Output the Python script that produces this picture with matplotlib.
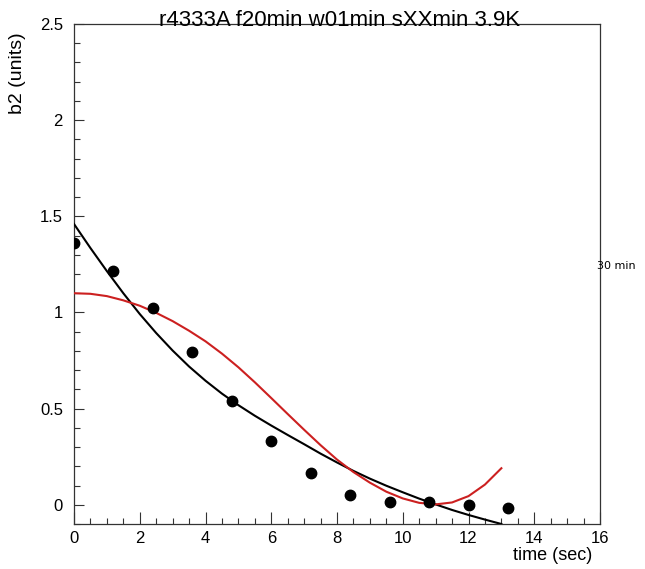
"""Recreate the b2 decay plot (ROOT-style frame) as out.png."""

import matplotlib

matplotlib.use("Agg")
import matplotlib.pyplot as plt
from matplotlib.ticker import MultipleLocator, FixedLocator

# measured points
t_pts = [0.0, 1.2, 2.4, 3.6, 4.8, 6.0, 7.2, 8.4, 9.6, 10.8, 12.0, 13.2]
b2_pts = [1.36, 1.215, 1.025, 0.793, 0.542, 0.333, 0.167, 0.052, 0.012, 0.016, 0.0, -0.015]

# fitted curves, every 0.5 s
t_fit = [0.0, 0.5, 1.0, 1.5, 2.0, 2.5, 3.0, 3.5, 4.0, 4.5, 5.0, 5.5, 6.0, 6.5,
         7.0, 7.5, 8.0, 8.5, 9.0, 9.5, 10.0, 10.5, 11.0, 11.5, 12.0, 12.5, 13.0]
black_fit = [1.460, 1.335, 1.215, 1.100, 0.992, 0.893, 0.802, 0.719, 0.645, 0.578,
             0.518, 0.463, 0.412, 0.363, 0.315, 0.266, 0.220, 0.176, 0.136, 0.099,
             0.065, 0.032, 0.002, -0.027, -0.053, -0.077, -0.100]
red_fit = [1.100, 1.097, 1.085, 1.063, 1.035, 0.998, 0.955, 0.905, 0.850, 0.786,
           0.715, 0.637, 0.555, 0.472, 0.390, 0.310, 0.235, 0.170, 0.115, 0.068,
           0.033, 0.010, 0.002, 0.012, 0.045, 0.105, 0.190]

x_ticks = [0, 2, 4, 6, 8, 10, 12, 14, 16]
y_ticks = [0, 0.5, 1, 1.5, 2, 2.5]
y_tick_labels = ["0", "0.5", "1", "1.5", "2", "2.5"]

title = "r4333A f20min w01min sXXmin 3.9K"

plt.rcParams["font.family"] = ["Liberation Sans", "DejaVu Sans"]

W, H = 645, 569
fig = plt.figure(figsize=(W / 100, H / 100), dpi=100)
ax = fig.add_axes([74 / W, 1 - 524 / H, (600 - 74) / W, (524 - 24) / H])

ax.plot(t_fit, black_fit, color="black", lw=1.5, zorder=3)
ax.plot(t_fit, red_fit, color="#cc2020", lw=1.5, zorder=3)
ax.plot(t_pts, b2_pts, "o", color="black", ms=7.5, zorder=4)

ax.set_xlim(0, 16)
ax.set_ylim(-0.1, 2.5)
ax.xaxis.set_major_locator(FixedLocator(x_ticks))
ax.xaxis.set_minor_locator(MultipleLocator(0.5))
ax.yaxis.set_major_locator(FixedLocator(y_ticks))
ax.set_yticklabels(y_tick_labels)
ax.yaxis.set_minor_locator(MultipleLocator(0.1))
ax.tick_params(axis="both", which="both", direction="in", colors="#333333",
               labelcolor="black", labelsize=12, width=0.8)
ax.tick_params(axis="x", which="major", length=9, pad=5)
ax.tick_params(axis="x", which="minor", length=4.5)
ax.tick_params(axis="y", which="major", length=7, pad=8)
ax.tick_params(axis="y", which="minor", length=4)
for s in ax.spines.values():
    s.set_color("#333333")
    s.set_linewidth(0.9)

fig.text(340 / W, 1 - 20 / H, title, ha="center", va="center", fontsize=16)
fig.text(18 / W, 1 - 32 / H, "b2 (units)", rotation=90, ha="center", va="top", fontsize=14)
fig.text(592 / W, 1 - 555 / H, "time (sec)", ha="right", va="center", fontsize=13)
fig.text(597 / W, 1 - 266 / H, "30 min", ha="left", va="center", fontsize=8,
         family="DejaVu Sans")

fig.savefig("out.png", dpi=100)
